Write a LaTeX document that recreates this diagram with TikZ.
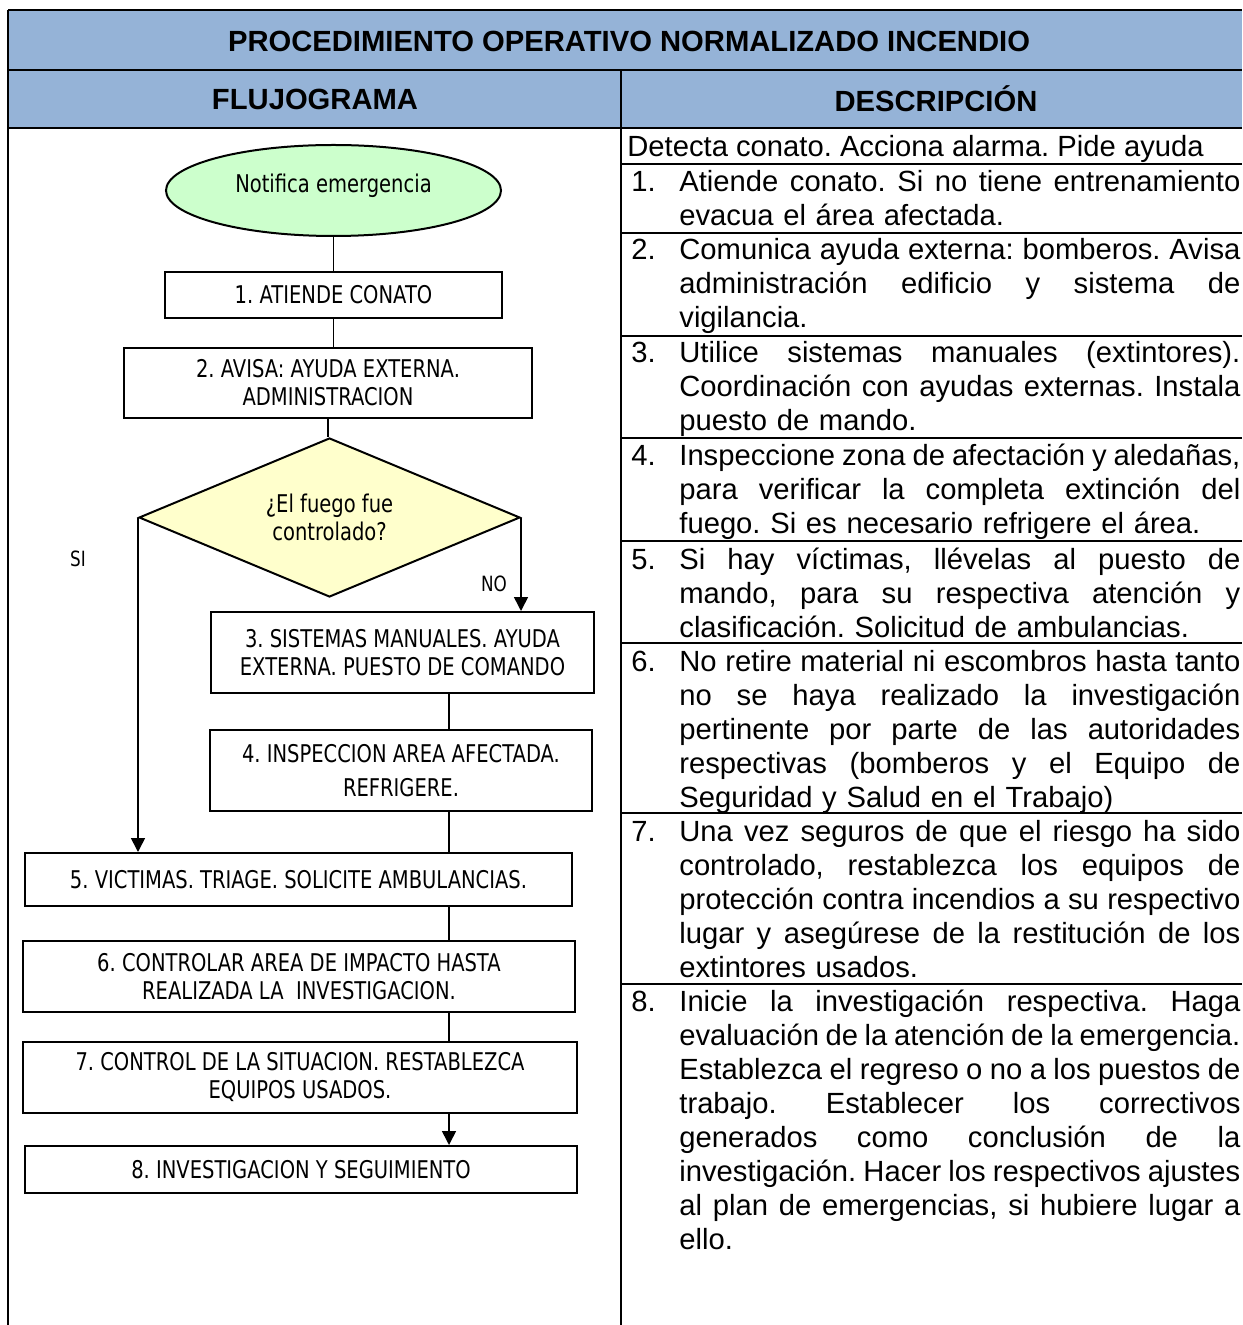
\documentclass[tikz,border=0pt]{standalone}
\usepackage{fontspec}
\setmainfont{Liberation Sans}
\newfontfamily\fcf{DejaVu Sans}[FakeStretch=0.8]
\usetikzlibrary{shapes.geometric,arrows.meta}
\definecolor{hdrblue}{RGB}{149,179,215}
\definecolor{ellgreen}{RGB}{204,255,204}
\definecolor{diayellow}{RGB}{255,255,204}
\newcommand\JL[1]{\hbox to 280.5pt{\spaceskip=0.278em plus 1fil minus 0.15em\xspaceskip=\spaceskip #1}}
\newcommand\LL[1]{\hbox to 280.5pt{#1\hfil}}
\newcommand\NUM[1]{\leavevmode\hbox to 24pt{#1\hfil}}
\newcommand\flowfont{\fcf\fontsize{12.2}{14}\selectfont}
\frenchspacing
\begin{document}
\frenchspacing
\begin{tikzpicture}[x=0.5pt,y=-0.5pt,
  hdr/.style={inner sep=0pt,font=\fontsize{14.6}{17}\selectfont\bfseries},
  desc/.style={anchor=base west,inner sep=0pt,text width=304.5pt,font=\fontsize{14.6}{17}\selectfont\frenchspacing},
  plain/.style={anchor=base west,inner sep=0pt,font=\fontsize{14.6}{17}\selectfont\frenchspacing},
  fbox/.style={draw,line width=1pt,rectangle,align=center,inner sep=0pt,font=\flowfont\frenchspacing},
  tbl/.style={line width=1.3pt},
  conn/.style={line width=0.8pt},
  arr/.style={conn,-{Triangle[length=7pt,width=7pt]}},
  lbl/.style={inner sep=0pt,font=\fcf\fontsize{10.5}{12}\selectfont}]
\useasboundingbox (0,0) rectangle (1242,1325);
% header bands
\fill[hdrblue] (8,10) rectangle (1242,128);
\draw[tbl] (8,10) -- (1242,10);
\draw[tbl] (8,70) -- (1242,70);
\draw[tbl] (8,128) -- (1242,128);
\draw[tbl] (8,10) -- (8,1325);
\draw[tbl] (621,70) -- (621,1325);
\foreach \yy in {164,233,336,438,541,643,813,984}
  \draw[tbl] (621,\yy) -- (1242,\yy);
\node[hdr] (title) at (629,41) {PROCEDIMIENTO OPERATIVO NORMALIZADO INCENDIO};
\node[hdr] (hflujo) at (315,99) {FLUJOGRAMA};
\node[hdr] (hdesc) at (936,99) {DESCRIPCIÓN};
% descriptions
\node[plain] (d0) at (627,157) {Detecta conato. Acciona alarma. Pide ayuda};
\node[desc] (d1) at (631,192) {\NUM{1.}\JL{Atiende conato. Si no tiene entrenamiento}\\
\NUM{}\LL{evacua el área afectada.}};
\node[desc] (d2) at (631,260) {\NUM{2.}\JL{Comunica ayuda externa: bomberos. Avisa}\\
\NUM{}\JL{administración edificio y sistema de}\\
\NUM{}\LL{vigilancia.}};
\node[desc] (d3) at (631,363) {\NUM{3.}\JL{Utilice sistemas manuales (extintores).}\\
\NUM{}\JL{Coordinación con ayudas externas. Instala}\\
\NUM{}\LL{puesto de mando.}};
\node[desc] (d4) at (631,466) {\NUM{4.}\JL{Inspeccione zona de afectación y aledañas,}\\
\NUM{}\JL{para verificar la completa extinción del}\\
\NUM{}\LL{fuego. Si es necesario refrigere el área.}};
\node[desc] (d5) at (631,569) {\NUM{5.}\JL{Si hay víctimas, llévelas al puesto de}\\
\NUM{}\JL{mando, para su respectiva atención y}\\
\NUM{}\LL{clasificación. Solicitud de ambulancias.}};
\node[desc] (d6) at (631,671) {\NUM{6.}\JL{No retire material ni escombros hasta tanto}\\
\NUM{}\JL{no se haya realizado la investigación}\\
\NUM{}\JL{pertinente por parte de las autoridades}\\
\NUM{}\JL{respectivas (bomberos y el Equipo de}\\
\NUM{}\LL{Seguridad y Salud en el Trabajo)}};
\node[desc] (d7) at (631,841) {\NUM{7.}\JL{Una vez seguros de que el riesgo ha sido}\\
\NUM{}\JL{controlado, restablezca los equipos de}\\
\NUM{}\JL{protección contra incendios a su respectivo}\\
\NUM{}\JL{lugar y asegúrese de la restitución de los}\\
\NUM{}\LL{extintores usados.}};
\node[desc] (d8) at (631,1011) {\NUM{8.}\JL{Inicie la investigación respectiva. Haga}\\
\NUM{}\JL{evaluación de la atención de la emergencia.}\\
\NUM{}\JL{Establezca el regreso o no a los puestos de}\\
\NUM{}\JL{trabajo. Establecer los correctivos}\\
\NUM{}\JL{generados como conclusión de la}\\
\NUM{}\JL{investigación. Hacer los respectivos ajustes}\\
\NUM{}\JL{al plan de emergencias, si hubiere lugar a}\\
\NUM{}\LL{ello.}};
% flowchart
\node[draw,line width=1pt,ellipse,fill=ellgreen,inner sep=0pt,minimum width=167.5pt,minimum height=45.5pt,font=\flowfont,text depth=7pt] (e) at (333.5,190.5) {Notifica emergencia};
\node[fbox,minimum width=168.5pt,minimum height=23pt] (b1) at (333.5,295) {1. ATIENDE CONATO};
\node[fbox,minimum width=204pt,minimum height=35pt] (b2) at (328,383) {2. AVISA: AYUDA EXTERNA.\\ADMINISTRACION};
\node[draw,line width=1pt,diamond,fill=diayellow,shape aspect=2.4,inner sep=0pt,minimum width=190.5pt,minimum height=79.5pt,align=center,font=\flowfont] (d) at (329.5,517.5) {¿El fuego fue\\controlado?};
\node[fbox,minimum width=191.5pt,minimum height=40.5pt] (b3) at (402.5,652.5) {3. SISTEMAS MANUALES. AYUDA\\EXTERNA. PUESTO DE COMANDO};
\node[fbox,minimum width=191pt,minimum height=40.5pt] (b4) at (401,770.5) {4. INSPECCION AREA AFECTADA.\\[3pt]REFRIGERE.};
\node[fbox,minimum width=273.5pt,minimum height=26.5pt] (b5) at (298.5,879.5) {5. VICTIMAS. TRIAGE. SOLICITE AMBULANCIAS.};
\node[fbox,minimum width=276pt,minimum height=35.5pt] (b6) at (299,976.5) {6. CONTROLAR AREA DE IMPACTO HASTA\\REALIZADA LA\ \ INVESTIGACION.};
\node[fbox,minimum width=277pt,minimum height=35.5pt] (b7) at (300,1077.5) {7. CONTROL DE LA SITUACION. RESTABLEZCA\\EQUIPOS USADOS.};
\node[fbox,minimum width=276pt,minimum height=23.5pt] (b8) at (301,1169.5) {8. INVESTIGACION Y SEGUIMIENTO};
\node[lbl] (si) at (78,559) {SI};
\node[lbl] (no) at (494,584) {NO};
\coordinate (mx) at (449,0);
\draw[conn] (e.south) -- (e.south |- b1.north);
\draw[conn] (b1.south) -- (b1.south |- b2.north);
\draw[conn] (b2.south) -- (b2.south |- d.north);
\draw[arr] (d.west) -- (d.west |- b5.north);
\draw[arr] (d.east) -- (d.east |- b3.north);
\draw[conn] (b3.south -| mx) -- (b4.north -| mx);
\draw[conn] (b4.south -| mx) -- (b5.north -| mx);
\draw[conn] (b5.south -| mx) -- (b6.north -| mx);
\draw[conn] (b6.south -| mx) -- (b7.north -| mx);
\draw[arr] (b7.south -| mx) -- (b8.north -| mx);
\end{tikzpicture}
\end{document}
